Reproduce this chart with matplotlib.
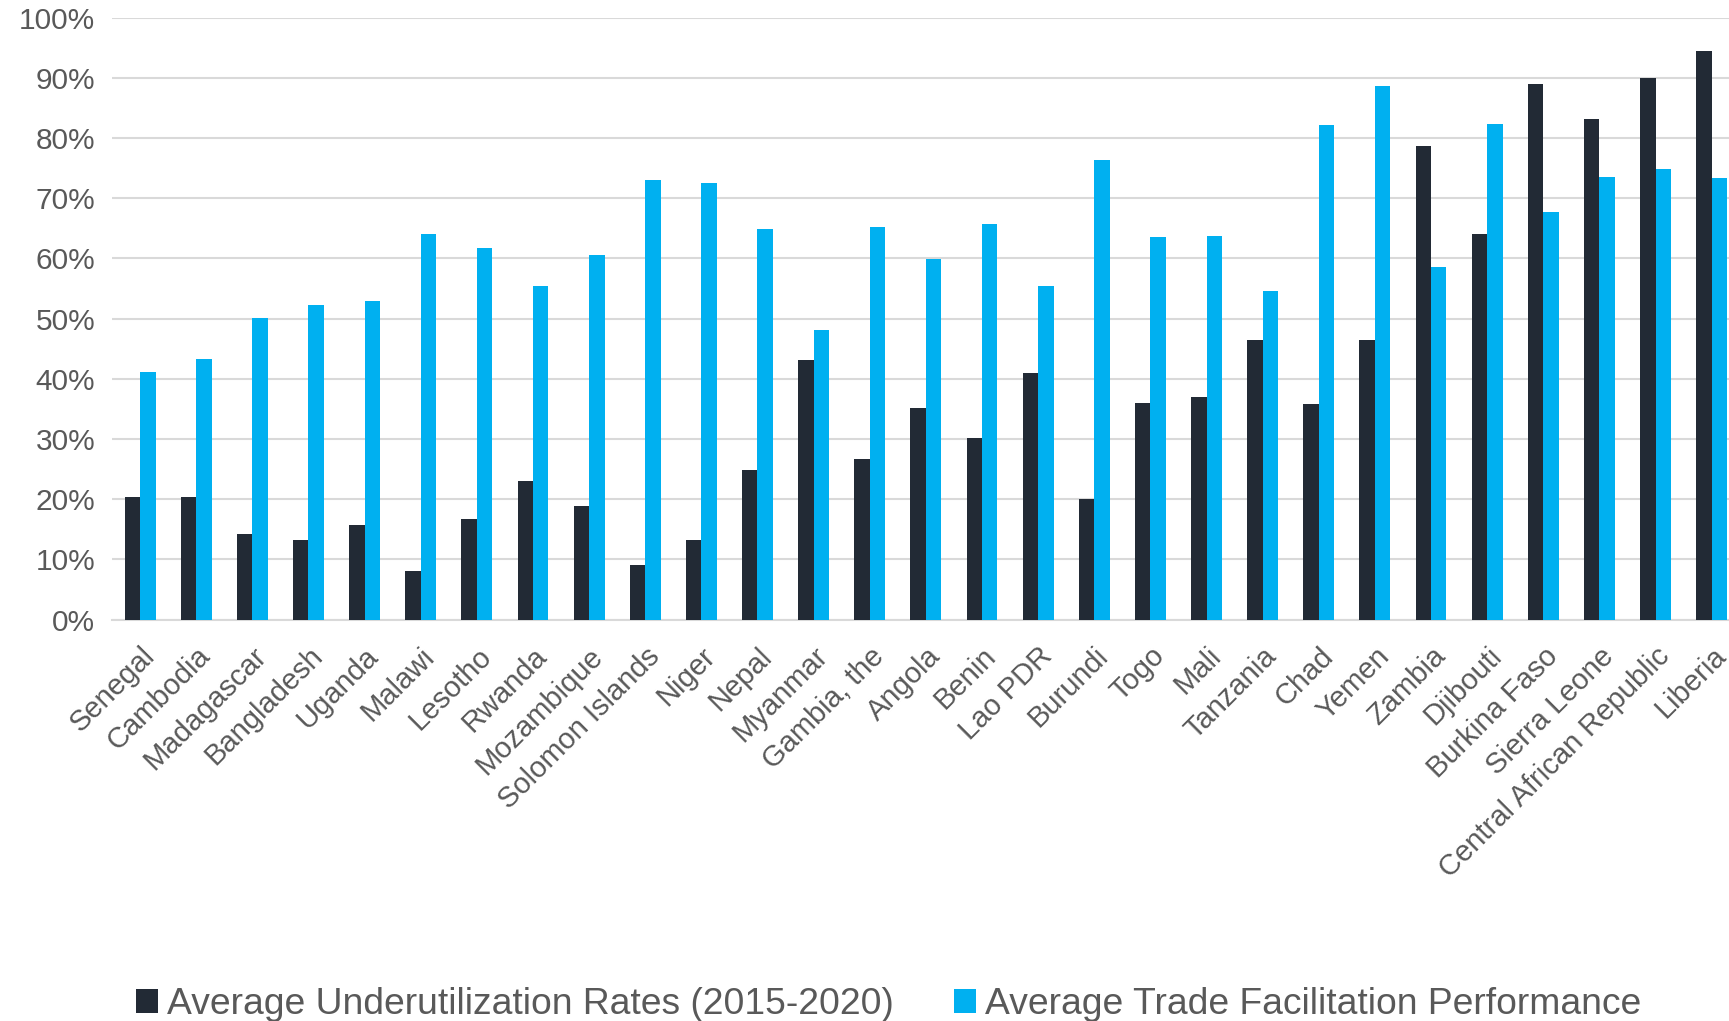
import numpy as np
import matplotlib
import matplotlib.pyplot as plt

matplotlib.use('Agg')
plt.rcParams['font.family'] = ['Liberation Sans', 'DejaVu Sans']

countries = ["Senegal", "Cambodia", "Madagascar", "Bangladesh", "Uganda", "Malawi",
             "Lesotho", "Rwanda", "Mozambique", "Solomon Islands", "Niger", "Nepal",
             "Myanmar", "Gambia, the", "Angola", "Benin", "Lao PDR", "Burundi", "Togo",
             "Mali", "Tanzania", "Chad", "Yemen", "Zambia", "Djibouti", "Burkina Faso",
             "Sierra Leone", "Central African Republic", "Liberia"]

underutil = [20.3, 20.3, 14.2, 13.2, 15.7, 8.0, 16.7, 23.0, 18.9, 9.0, 13.2, 24.9,
             43.1, 26.7, 35.1, 30.1, 40.9, 20.1, 36.0, 37.0, 46.5, 35.9, 46.4, 78.6,
             64.1, 89.0, 83.1, 90.0, 94.5]

trade_fac = [41.2, 43.3, 50.1, 52.3, 52.9, 64.0, 61.8, 55.5, 60.5, 73.0, 72.6, 64.9,
             48.1, 65.3, 59.9, 65.7, 55.4, 76.4, 63.5, 63.8, 54.6, 82.2, 88.7, 58.6,
             82.3, 67.7, 73.6, 74.8, 73.3]

labels = ["Average Underutilization Rates (2015-2020)", "Average Trade Facilitation Performance"]

DARK = '#222a35'
BLUE = '#00b0f0'
GREY = '#595959'

fig = plt.figure(figsize=(17.29, 10.21), dpi=100)
ax = fig.add_axes([0.0648, 0.3931, 0.9414, 0.5896])

x = np.arange(len(countries))
w = 0.275
ax.bar(x - w/2, np.array(underutil)/100, w, color=DARK, label=labels[0], zorder=3)
ax.bar(x + w/2, np.array(trade_fac)/100, w, color=BLUE, label=labels[1], zorder=3)

ax.set_xlim(-0.5, len(countries) - 0.5)
ax.set_ylim(0, 1)
ax.set_yticks(np.arange(0, 1.01, 0.1))
ax.set_yticklabels([f"{int(round(v*100))}%" for v in np.arange(0, 1.01, 0.1)])
ax.yaxis.grid(True, color='#d9d9d9', linewidth=1.5, zorder=0)
ax.set_axisbelow(True)
for s in ['top', 'right', 'left']:
    ax.spines[s].set_visible(False)
ax.spines['bottom'].set_color('#d9d9d9')
ax.spines['bottom'].set_linewidth(1.5)

ax.set_xticks(x)
ax.set_xticklabels(countries, rotation=45, ha='right', rotation_mode='anchor')
ax.tick_params(axis='both', length=0, labelsize=21.5, labelcolor=GREY)
ax.tick_params(axis='x', labelsize=21, pad=16)
ax.tick_params(axis='y', pad=12)

fig.legend(loc='lower center', bbox_to_anchor=(0.514, -0.034), ncol=2, frameon=False,
           fontsize=26.8, labelcolor=GREY, handlelength=0.6, handleheight=0.6,
           handletextpad=0.25, columnspacing=1.6)

fig.savefig('out.png', dpi=100)
